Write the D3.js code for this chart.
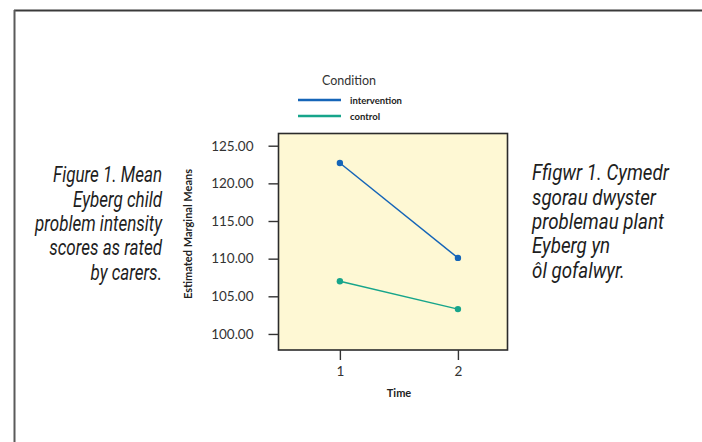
<!DOCTYPE html>
<html>
<head>
<meta charset="utf-8">
<script src="https://cdn.jsdelivr.net/npm/d3@7"></script>
<style>
  html, body { margin: 0; padding: 0; background: #ffffff; }
  svg { display: block; }
</style>
</head>
<body>
<svg id="chart" width="702" height="442"></svg>
<script>
// ---- data ----
const times = [1, 2];
const seriesNames = ["intervention", "control"];
const interventionMeans = [122.7, 110.1];
const controlMeans = [107.0, 103.3];
const yTicks = [100, 105, 110, 115, 120, 125];
const xTicks = [1, 2];
const captionLeft = ["Figure 1. Mean", "Eyberg child", "problem intensity", "scores as rated", "by carers."];
const captionRight = ["Ffigwr 1. Cymedr", "sgorau dwyster", "problemau plant", "Eyberg yn", "ôl gofalwyr."];

const colors = { intervention: "#1565b8", control: "#17a58b" };

const svg = d3.select("#chart");
const W = 702, H = 442;

// page frame (top and left rules)
svg.append("line").attr("x1", 14).attr("x2", W).attr("y1", 10.5).attr("y2", 10.5)
  .attr("stroke", "#3a3a3a").attr("stroke-width", 2);
svg.append("line").attr("x1", 14.5).attr("x2", 14.5).attr("y1", 10).attr("y2", H)
  .attr("stroke", "#5a5a5a").attr("stroke-width", 2);

// plot area
const plot = { left: 278.5, right: 507.5, top: 133.5, bottom: 350 };

const x = d3.scaleLinear().domain([0.48, 2.42]).range([plot.left, plot.right]);
const y = d3.scaleLinear().domain([97.87, 126.62]).range([plot.bottom, plot.top]);

svg.append("rect")
  .attr("x", plot.left).attr("y", plot.top)
  .attr("width", plot.right - plot.left).attr("height", plot.bottom - plot.top)
  .attr("fill", "#fef8d4").attr("stroke", "#2b2b2b").attr("stroke-width", 1.6);

const tickFont = "Lato, 'Open Sans', sans-serif";

// y axis
const yAxis = d3.axisLeft(y).tickValues(yTicks).tickFormat(d3.format(".2f"))
  .tickSize(10).tickPadding(15);
const gy = svg.append("g").attr("transform", `translate(${plot.left},0)`).call(yAxis);
gy.select(".domain").remove();
gy.selectAll(".tick line").attr("stroke", "#333").attr("stroke-width", 1.4);
gy.selectAll(".tick text").attr("font-family", tickFont).attr("font-size", 13.5)
  .attr("fill", "#333");

// x axis
const xAxis = d3.axisBottom(x).tickValues(xTicks).tickFormat(d3.format("d"))
  .tickSize(10).tickPadding(6);
const gx = svg.append("g").attr("transform", `translate(0,${plot.bottom})`).call(xAxis);
gx.select(".domain").remove();
gx.selectAll(".tick line").attr("stroke", "#333").attr("stroke-width", 1.4);
gx.selectAll(".tick text").attr("font-family", tickFont).attr("font-size", 13.5)
  .attr("fill", "#333");

// axis titles
svg.append("text").attr("x", 399).attr("y", 397)
  .attr("text-anchor", "middle").attr("font-family", tickFont)
  .attr("font-weight", "bold").attr("font-size", 11).attr("fill", "#222")
  .text("Time");
svg.append("text")
  .attr("transform", `translate(192,234) rotate(-90)`)
  .attr("text-anchor", "middle").attr("font-family", tickFont)
  .attr("font-weight", "bold").attr("font-size", 11).attr("fill", "#222")
  .text("Estimated Marginal Means");

// series
const series = [
  { name: seriesNames[0], values: interventionMeans },
  { name: seriesNames[1], values: controlMeans }
];
const line = d3.line().x((d, i) => x(times[i])).y(d => y(d));
series.forEach(s => {
  svg.append("path").datum(s.values).attr("d", line)
    .attr("fill", "none").attr("stroke", colors[s.name]).attr("stroke-width", 1.5);
  svg.selectAll(null).data(s.values).enter().append("circle")
    .attr("cx", (d, i) => x(times[i])).attr("cy", d => y(d)).attr("r", 3.2)
    .attr("fill", colors[s.name]);
});

// legend
svg.append("text").attr("x", 349).attr("y", 84.5).attr("text-anchor", "middle")
  .attr("font-family", tickFont).attr("font-size", 12.5).attr("fill", "#333")
  .text("Condition");
series.forEach((s, i) => {
  const ly = 100 + i * 16;
  svg.append("line").attr("x1", 298).attr("x2", 341).attr("y1", ly).attr("y2", ly)
    .attr("stroke", colors[s.name]).attr("stroke-width", 2.5);
  svg.append("text").attr("x", 350).attr("y", ly + 3.5)
    .attr("font-family", tickFont).attr("font-weight", "bold").attr("font-size", 9.5)
    .attr("fill", "#222").text(s.name);
});

// captions
const capFont = "Roboto, 'Open Sans', sans-serif";
function caption(lines, xPos, anchor, y0, targetWidth) {
  const g = svg.append("g");
  const t = g.selectAll(null).data(lines).enter().append("text")
    .attr("x", 0).attr("y", (d, i) => y0 + i * 24.3)
    .attr("text-anchor", anchor)
    .attr("font-family", capFont).attr("font-style", "italic")
    .attr("font-weight", 400)
    .attr("font-size", 22).attr("fill", "#1e1e1e")
    .text(d => d);
  // fit the widest line to the measured width in the reference
  let maxW = 0;
  t.each(function () { maxW = Math.max(maxW, this.getComputedTextLength()); });
  const sx = maxW > 0 ? targetWidth / maxW : 1;
  g.attr("transform", `translate(${xPos},0) scale(${sx},1)`);
}
caption(captionLeft, 162, "end", 182.5, 127);
caption(captionRight, 532, "start", 180.5, 137);
</script>
</body>
</html>
